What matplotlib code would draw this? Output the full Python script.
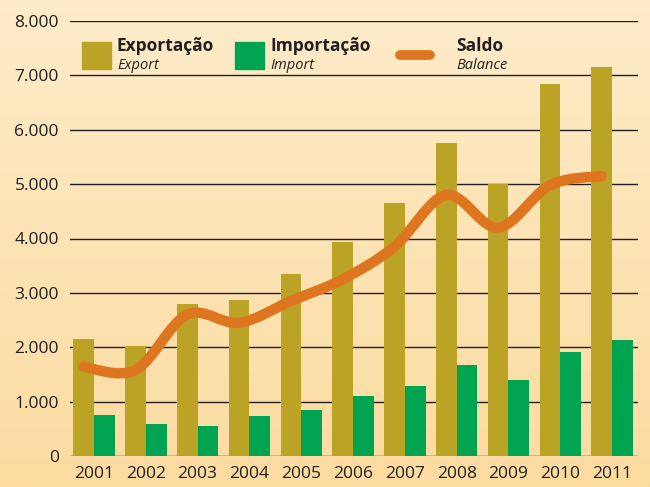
import numpy as np
import matplotlib
matplotlib.use("Agg")
import matplotlib.pyplot as plt
from matplotlib.path import Path
from matplotlib.patches import PathPatch, Rectangle
from matplotlib.lines import Line2D

years = ["2001", "2002", "2003", "2004", "2005", "2006",
         "2007", "2008", "2009", "2010", "2011"]
exports = [2150, 2020, 2800, 2870, 3340, 3930, 4650, 5750, 5000, 6850, 7150]
imports = [760, 590, 560, 740, 850, 1110, 1290, 1680, 1400, 1920, 2140]
balance = [1640, 1580, 2600, 2450, 2850, 3250, 3850, 4800, 4200, 4980, 5150]
yticks = [0, 1000, 2000, 3000, 4000, 5000, 6000, 7000, 8000]
ytick_labels = ["0", "1.000", "2.000", "3.000", "4.000", "5.000",
                "6.000", "7.000", "8.000"]

GOLD = "#BBA326"
GREEN = "#00A450"
ORANGE = "#DD761F"
INK = "#231F20"

plt.rcParams["font.family"] = ["Open Sans", "DejaVu Sans"]

fig = plt.figure(figsize=(6.5, 4.87), dpi=100)

# background gradient
bg = fig.add_axes([0, 0, 1, 1], zorder=-10)
top = np.array([254, 236, 202]) / 255
bot = np.array([252, 219, 160]) / 255
t = np.linspace(0, 1, 256)[:, None]
grad = top * (1 - t) + bot * t
bg.imshow(grad[:, None, :], aspect="auto", extent=[0, 1, 0, 1])
bg.axis("off")

ax = fig.add_axes([70 / 650, 31 / 487, 568 / 650, 435 / 487])
ax.patch.set_alpha(0)

x = np.arange(len(years))
w = 0.4
ax.bar(x - w / 2, exports, width=w, color=GOLD, zorder=2)
ax.bar(x + w / 2, imports, width=w, color=GREEN, zorder=2)

# smooth balance curve (Catmull-Rom -> cubic Bezier)
px = x - w / 2
py = np.array(balance, dtype=float)
pts = np.column_stack([px, py])
verts = [pts[0]]
codes = [Path.MOVETO]
n = len(pts)
for i in range(n - 1):
    p0 = pts[max(i - 1, 0)]
    p1 = pts[i]
    p2 = pts[i + 1]
    p3 = pts[min(i + 2, n - 1)]
    c1 = p1 + (p2 - p0) / 6
    c2 = p2 - (p3 - p1) / 6
    verts += [c1, c2, p2]
    codes += [Path.CURVE4] * 3
path = Path(verts, codes)
ax.add_patch(PathPatch(path, facecolor="none", edgecolor=ORANGE, lw=7.5,
                       capstyle="round", joinstyle="round", zorder=3))

ax.set_xlim(-0.463, 10.5)
ax.set_ylim(0, 8000)
ax.set_yticks(yticks)
ax.set_yticklabels(ytick_labels)
ax.set_xticks(x)
ax.set_xticklabels(years)
ax.tick_params(axis="both", length=0, labelsize=12.5, colors=INK)
ax.tick_params(axis="y", pad=8)
ax.tick_params(axis="x", pad=7)
for s in ax.spines.values():
    s.set_visible(False)
ax.yaxis.grid(True, color=INK, lw=1.0, zorder=0)
ax.set_axisbelow(True)

# legend
def fx(v):
    return v / 650


def fy(v):
    return 1 - v / 487


fig.patches.append(Rectangle((fx(82), fy(69)), fx(29), 27 / 487,
                             transform=fig.transFigure, color=GOLD))
fig.patches.append(Rectangle((fx(235), fy(69)), fx(29), 27 / 487,
                             transform=fig.transFigure, color=GREEN))
fig.lines.append(Line2D([fx(400), fx(430)], [fy(55), fy(55)],
                        transform=fig.transFigure, color=ORANGE, lw=7,
                        solid_capstyle="round"))

for tx, main, sub in [(117, "Exportação", "Export"),
                      (270, "Importação", "Import"),
                      (456, "Saldo", "Balance")]:
    fig.text(fx(tx), fy(51), main, fontsize=12.5, fontweight="bold",
             color=INK, va="baseline", ha="left")
    fig.text(fx(tx), fy(69), sub, fontsize=10.5, fontstyle="italic",
             color=INK, va="baseline", ha="left")

fig.savefig("out.png", dpi=100)
